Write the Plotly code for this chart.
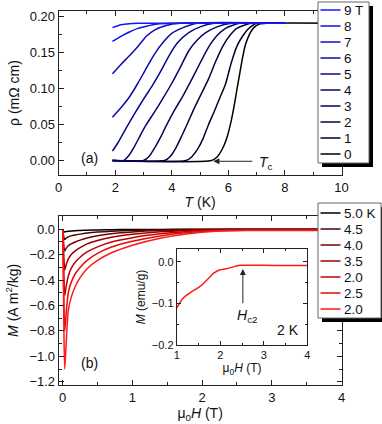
import plotly.graph_objects as go

# ---- panel (a): resistivity vs temperature for fields 0..9 T
fields = ["9 T", "8", "7", "6", "5", "4", "3", "2", "1", "0"]
T_9 = [1.9, 2.2, 2.5, 2.8, 3.2, 4.0, 8.0]
rho_9 = [0.184, 0.188, 0.1895, 0.19, 0.19, 0.19, 0.19]
T_8 = [1.9, 2.2, 2.5, 2.8, 3.1, 3.5, 4.0, 8.0]
rho_8 = [0.165, 0.172, 0.178, 0.183, 0.186, 0.189, 0.19, 0.19]
T_7 = [1.9, 2.2, 2.5, 2.8, 3.1, 3.4, 3.8, 4.3, 8.0]
rho_7 = [0.12, 0.133, 0.145, 0.158, 0.172, 0.181, 0.187, 0.19, 0.19]
T_6 = [1.9, 2.2, 2.5, 2.8, 3.1, 3.4, 3.7, 4.0, 4.4, 4.9, 8.0]
rho_6 = [0.06, 0.073, 0.088, 0.107, 0.128, 0.148, 0.164, 0.176, 0.184, 0.19, 0.19]
T_5 = [1.9, 2.1, 2.4, 2.7, 3.0, 3.3, 3.6, 3.9, 4.2, 4.6, 5.0, 5.5, 8.0]
rho_5 = [0.013, 0.025, 0.046, 0.066, 0.085, 0.103, 0.123, 0.145, 0.163, 0.177, 0.185, 0.19, 0.19]
T_4 = [1.9, 2.3, 2.5, 2.7, 2.9, 3.1, 3.4, 3.7, 4.0, 4.3, 4.6, 4.9, 5.2, 5.6, 6.1, 8.0]
rho_4 = [0, 0, 0.008, 0.021, 0.036, 0.05, 0.068, 0.087, 0.107, 0.129, 0.152, 0.167, 0.177, 0.185, 0.19, 0.19]
T_3 = [1.9, 3.0, 3.2, 3.4, 3.6, 3.8, 4.1, 4.4, 4.7, 5.0, 5.3, 5.6, 5.9, 6.4, 8.0]
rho_3 = [0, 0, 0.006, 0.018, 0.032, 0.048, 0.07, 0.09, 0.112, 0.135, 0.157, 0.173, 0.183, 0.19, 0.19]
T_2 = [1.9, 3.75, 3.95, 4.15, 4.35, 4.55, 4.8, 5.05, 5.3, 5.55, 5.8, 6.05, 6.3, 6.8, 8.0]
rho_2 = [0, 0, 0.006, 0.018, 0.034, 0.051, 0.073, 0.093, 0.113, 0.137, 0.158, 0.173, 0.183, 0.19, 0.19]
T_1 = [1.9, 4.5, 4.7, 4.9, 5.1, 5.3, 5.5, 5.7, 5.9, 6.1, 6.3, 6.5, 6.7, 7.0, 8.0]
rho_1 = [0, 0, 0.005, 0.015, 0.03, 0.05, 0.068, 0.087, 0.106, 0.135, 0.158, 0.172, 0.182, 0.19, 0.19]
T_0 = [1.9, 5.4, 5.6, 5.8, 5.95, 6.1, 6.2, 6.3, 6.4, 6.5, 6.6, 6.75, 6.9, 7.1, 7.4, 10.0]
rho_0 = [0, 0, 0.005, 0.017, 0.032, 0.055, 0.075, 0.098, 0.12, 0.142, 0.16, 0.175, 0.184, 0.189, 0.19, 0.19]
T_curves = [T_9, T_8, T_7, T_6, T_5, T_4, T_3, T_2, T_1, T_0]
rho_curves = [rho_9, rho_8, rho_7, rho_6, rho_5, rho_4, rho_3, rho_2, rho_1, rho_0]

# ---- panel (b): magnetization vs field
temps = ["5.0 K", "4.5", "4.0", "3.5", "2.0", "2.5", "2.0"]
H = [0, 0.01, 0.02, 0.03, 0.05, 0.08, 0.12, 0.18, 0.25, 0.35, 0.5, 0.7, 1.0, 1.4, 1.8, 2.2, 2.6, 3.0, 4.0]
M_50 = [0, -0.015, -0.022, -0.02, -0.017, -0.015, -0.013, -0.011, -0.009, -0.007, -0.005, -0.003, -0.002, -0.001, 0, 0, 0, 0, 0]
M_45 = [0, -0.04, -0.07, -0.08, -0.07, -0.06, -0.052, -0.045, -0.038, -0.03, -0.022, -0.015, -0.009, -0.004, -0.002, -0.001, 0, 0, 0]
M_40 = [0, -0.08, -0.15, -0.17, -0.15, -0.13, -0.115, -0.1, -0.085, -0.068, -0.05, -0.035, -0.021, -0.01, -0.005, -0.002, -0.001, -0.001, -0.001]
M_35 = [0, -0.13, -0.26, -0.32, -0.28, -0.235, -0.2, -0.17, -0.145, -0.115, -0.088, -0.063, -0.04, -0.02, -0.009, -0.004, -0.003, -0.003, -0.003]
M_30 = [0, -0.2, -0.42, -0.52, -0.45, -0.37, -0.31, -0.26, -0.22, -0.178, -0.138, -0.1, -0.066, -0.036, -0.017, -0.008, -0.005, -0.005, -0.005]
M_25 = [0, -0.3, -0.64, -0.8, -0.66, -0.5, -0.42, -0.35, -0.3, -0.245, -0.19, -0.14, -0.094, -0.052, -0.026, -0.012, -0.008, -0.007, -0.007]
M_20 = [0, -0.4, -0.9, -1.1, -0.9, -0.64, -0.54, -0.45, -0.38, -0.31, -0.245, -0.185, -0.125, -0.07, -0.035, -0.016, -0.01, -0.009, -0.009]
M_curves = [M_50, M_45, M_40, M_35, M_30, M_25, M_20]

# ---- inset: 2 K magnetization in emu/g
H_in = [1.0, 1.15, 1.3, 1.45, 1.55, 1.7, 1.85, 2.0, 2.1, 2.2, 2.3, 2.45, 2.6, 3.0, 3.5, 4.0]
M_in = [-0.111, -0.087, -0.075, -0.065, -0.058, -0.043, -0.027, -0.019, -0.017, -0.015, -0.012, -0.008, -0.008, -0.008, -0.009, -0.009]

W, Hpx = 382, 424


def fx(px):
    return px / W


def fy(py):
    return 1 - py / Hpx


blues = ["rgb(20,20,255)", "rgb(15,15,225)", "rgb(12,12,196)", "rgb(10,10,168)", "rgb(8,8,140)",
         "rgb(6,6,112)", "rgb(5,5,86)", "rgb(4,4,62)", "rgb(2,2,40)", "rgb(0,0,0)"]
reds = ["rgb(0,0,0)", "rgb(70,5,5)", "rgb(115,0,0)", "rgb(155,0,0)", "rgb(195,0,0)", "rgb(230,10,10)", "rgb(255,25,25)"]

fig = go.Figure()

# draw 0 T first, 9 T last (on top)
for i in reversed(range(len(fields))):
    fig.add_trace(go.Scatter(x=T_curves[i], y=rho_curves[i], mode="lines", line=dict(color=blues[i], width=1.5, shape="spline", smoothing=0.6),
                             xaxis="x", yaxis="y", showlegend=False))

for i in range(len(temps)):
    fig.add_trace(go.Scatter(x=H, y=M_curves[i], mode="lines", line=dict(color=reds[i], width=1.5, shape="spline", smoothing=0.6),
                             xaxis="x2", yaxis="y2", showlegend=False))

fig.add_trace(go.Scatter(x=H_in, y=M_in, mode="lines", line=dict(color="rgb(255,25,25)", width=1.5, shape="spline", smoothing=0.6),
                         xaxis="x3", yaxis="y3", showlegend=False))

font = "Liberation Sans, Arial, sans-serif"
ax_common = dict(showline=True, linecolor="#222", linewidth=1, mirror="ticks", ticks="inside", ticklen=5,
                 tickcolor="#222", showgrid=False, zeroline=False, automargin=False,
                 tickfont=dict(size=13, color="#111"))
in_common = dict(showline=True, linecolor="#222", linewidth=1, mirror="ticks", ticks="inside", ticklen=4,
                 tickcolor="#222", showgrid=False, zeroline=False, automargin=False,
                 tickfont=dict(size=11, color="#111"))

fig.update_layout(
    width=W, height=Hpx, margin=dict(l=0, r=0, t=0, b=0, autoexpand=False),
    paper_bgcolor="white", plot_bgcolor="white",
    font=dict(family=font, color="#111"),
    xaxis=dict(domain=[fx(58.7), fx(341.5)], range=[0, 10], dtick=2, anchor="y",
               minor=dict(dtick=1, ticks="inside", ticklen=3, tickcolor="#222"),
               title=dict(text="<i>T</i> (K)", font=dict(size=14), standoff=3), **ax_common),
    yaxis=dict(domain=[fy(175), fy(11)], range=[-0.02, 0.207], dtick=0.05, tickformat=".2f", anchor="x",
               minor=dict(dtick=0.025, ticks="inside", ticklen=3, tickcolor="#222"),
               title=dict(text="ρ (mΩ cm)", font=dict(size=14), standoff=6), **ax_common),
    xaxis2=dict(domain=[fx(58.7), fx(341.5)], range=[-0.057, 4], dtick=1, anchor="y2",
                minor=dict(dtick=0.5, ticks="inside", ticklen=3, tickcolor="#222"),
                title=dict(text="μ<sub>0</sub><i>H</i> (T)", font=dict(size=14), standoff=3), **ax_common),
    yaxis2=dict(domain=[fy(385), fy(215.7)], range=[-1.226, 0.107], dtick=0.2, tickformat=".1f", anchor="x2",
                minor=dict(dtick=0.1, ticks="inside", ticklen=3, tickcolor="#222"),
                title=dict(text="<i>M</i> (A m<sup>2</sup>/kg)", font=dict(size=14), standoff=7), **ax_common),
    xaxis3=dict(domain=[fx(176.7), fx(307.3)], range=[1, 4], dtick=1, anchor="y3",
                minor=dict(dtick=0.5, ticks="inside", ticklen=2, tickcolor="#222"),
                title=dict(text="μ<sub>0</sub><i>H</i> (T)", font=dict(size=12), standoff=1), **in_common),
    yaxis3=dict(domain=[fy(345), fy(249)], range=[-0.2, 0.031], dtick=0.1, tickformat=".1f", anchor="x3",
                minor=dict(dtick=0.05, ticks="inside", ticklen=2, tickcolor="#222"),
                title=dict(text="<i>M</i> (emu/g)", font=dict(size=12), standoff=3), **in_common),
)

annotations = [
    dict(x=1.1, y=0.004, xref="x", yref="y", text="(a)", showarrow=False, font=dict(size=14), xanchor="center"),
    dict(x=0.38, y=-1.05, xref="x2", yref="y2", text="(b)", showarrow=False, font=dict(size=14), xanchor="center"),
    dict(x=5.47, y=-0.001, xref="x", yref="y", ax=6.9, ay=-0.001, axref="x", ayref="y", text="", showarrow=True,
         arrowhead=2, arrowsize=1.2, arrowwidth=1, arrowcolor="#222"),
    dict(x=7.0, y=-0.004, xref="x", yref="y", text="<i>T</i><sub>c</sub>", showarrow=False, font=dict(size=14),
         xanchor="left"),
    dict(x=2.52, y=-0.017, xref="x3", yref="y3", ax=2.52, ay=-0.103, axref="x3", ayref="y3", text="", showarrow=True,
         arrowhead=2, arrowsize=1.2, arrowwidth=1, arrowcolor="#222"),
    dict(x=2.62, y=-0.131, xref="x3", yref="y3", text="<i>H</i><sub>c2</sub>", showarrow=False, font=dict(size=14)),
    dict(x=3.56, y=-0.165, xref="x3", yref="y3", text="2 K", showarrow=False, font=dict(size=14)),
]

shapes = []


def legend_box(x0, y0, x1, y1, labels, colors, first_y, step):
    shapes.append(dict(type="rect", xref="paper", yref="paper", x0=fx(x0 + 4), x1=fx(x1 + 4), y0=fy(y1 + 4), y1=fy(y0 + 4),
                       line=dict(width=0), fillcolor="black", layer="above"))
    shapes.append(dict(type="rect", xref="paper", yref="paper", x0=fx(x0), x1=fx(x1), y0=fy(y1), y1=fy(y0),
                       line=dict(width=1, color="#666"), fillcolor="white", layer="above"))
    for k, (lab, col) in enumerate(zip(labels, colors)):
        yy = first_y + k * step
        shapes.append(dict(type="line", xref="paper", yref="paper", x0=fx(x0 + 2.5), x1=fx(x0 + 22.5), y0=fy(yy), y1=fy(yy),
                           line=dict(color=col, width=1.5), layer="above"))
        annotations.append(dict(x=fx(x0 + 24.5), y=fy(yy), xref="paper", yref="paper", text=lab, showarrow=False,
                                xanchor="left", yanchor="middle", borderpad=0, font=dict(size=13.5)))


legend_box(318, 2, 369, 163, fields, blues, 10, 16)
legend_box(318, 203, 381, 318, temps, reds, 213, 16)

fig.update_layout(annotations=annotations, shapes=shapes)

# drop the page's default 8 px body margin so the figure sits at the window corner
fig.write_html("out.html", config={"displayModeBar": False},
               post_script="document.body.style.margin='0';")
